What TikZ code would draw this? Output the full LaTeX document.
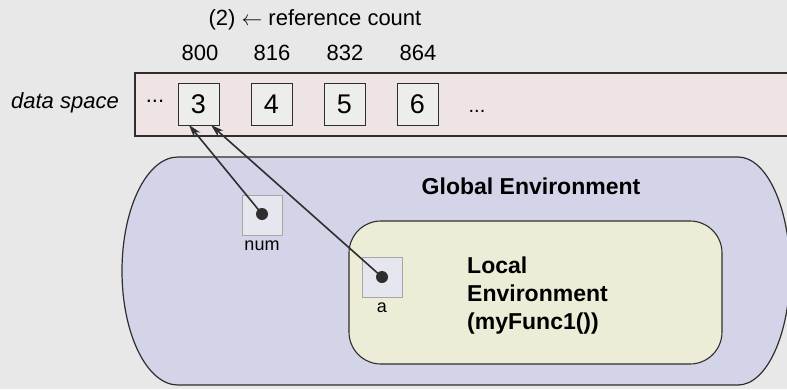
\documentclass[tikz,border=0pt]{standalone}
\usepackage{fontspec}
\setmainfont{Liberation Sans}
\usetikzlibrary{arrows.meta}
\definecolor{bg}{HTML}{E8E8E8}
\definecolor{dataspace}{HTML}{EEE4E4}
\definecolor{globalenv}{HTML}{D4D4E9}
\definecolor{localenv}{HTML}{ECECD7}
\definecolor{cellfill}{HTML}{EDEDEA}
\definecolor{ink}{HTML}{2E2E2E}
\definecolor{varbox}{HTML}{E6E6EE}
\tikzset{
  cell/.style={draw=ink, line width=1pt, fill=cellfill, minimum width=41pt, minimum height=42pt, inner sep=0pt, font=\fontsize{27}{30}\selectfont},
  addr/.style={font=\fontsize{22}{24}\selectfont, inner sep=0pt},
  vbox/.style={draw=gray!70, line width=0.9pt, fill=varbox, minimum size=40pt, inner sep=0pt},
  vdot/.style={circle, fill=ink, minimum size=12pt, inner sep=0pt},
  vname/.style={font=\fontsize{18}{20}\selectfont, inner sep=0pt},
  refarrow/.style={draw=ink, line width=1.6pt, -{Stealth[length=13pt,width=8pt]}},
  envtitle/.style={font=\bfseries\fontsize{23}{28}\selectfont, inner sep=0pt}
}
\begin{document}
\begin{tikzpicture}[x=1pt, y=-1pt]
\useasboundingbox (0,0) rectangle (787,389);
\fill[bg] (0,0) rectangle (787,389);
\begin{scope}
\clip (0,0) rectangle (787,389);
% data space strip
\draw[ink, line width=1.1pt, fill=dataspace] (135,73) rectangle (800,136);
% global environment: a long capsule with elliptic ends
\draw[ink, line width=1.2pt, fill=globalenv]
  (178,157) -- (738,157)
  .. controls (766.7,157) and (790,208) .. (790,271)
  .. controls (790,334) and (766.7,385) .. (738,385)
  -- (178,385)
  .. controls (147,385) and (122,334) .. (122,271)
  .. controls (122,208) and (147,157) .. (178,157) -- cycle;
\end{scope}
% local environment
\draw[ink, line width=1.1pt, fill=localenv, rounded corners=32pt] (349,221) rectangle (722,364);

% labels above the strip
\node[font=\fontsize{22}{24}\selectfont, inner sep=0pt] (refcount) at (315,20) {(2) $\leftarrow$ reference count};
\node[addr] (a800) at (200,53) {800};
\node[addr] (a816) at (272,53) {816};
\node[addr] (a832) at (345,53) {832};
\node[addr] (a864) at (418,53) {864};
\node[font=\itshape\fontsize{22}{24}\selectfont, inner sep=0pt, anchor=east] (dslabel) at (119,103) {data space};

% cells of the data space
\node[font=\fontsize{22}{24}\selectfont, inner sep=0pt] (ldots) at (155,101) {...};
\node[cell] (c3) at (198.5,104) {3};
\node[cell] (c4) at (271.5,104) {4};
\node[cell] (c5) at (344.5,104) {5};
\node[cell] (c6) at (417.5,104) {6};
\node[font=\fontsize{20}{22}\selectfont, inner sep=0pt] (rdots) at (477,111) {...};

% environment titles
\node[envtitle] (gtitle) at (531,186) {Global Environment};
\node[envtitle, align=left, anchor=north west] (ltitle) at (467,257) {Local\\Environment\\(myFunc1())};

% variables
\node[vbox] (numbox) at (262,215) {};
\node[vdot] (numdot) at (262,214) {};
\node[vname] (numlabel) at (262,246) {num};
\node[vbox] (abox) at (382,277) {};
\node[vdot] (adot) at (382,277) {};
\node[vname] (alabel) at (382,308) {a};

% references into the data space
\coordinate (tip1) at (189,125);
\coordinate (tip2) at (211,125);
\draw[refarrow] (numdot.center) -- (tip1);
\draw[refarrow] (adot.center) -- (tip2);
\end{tikzpicture}
\end{document}
